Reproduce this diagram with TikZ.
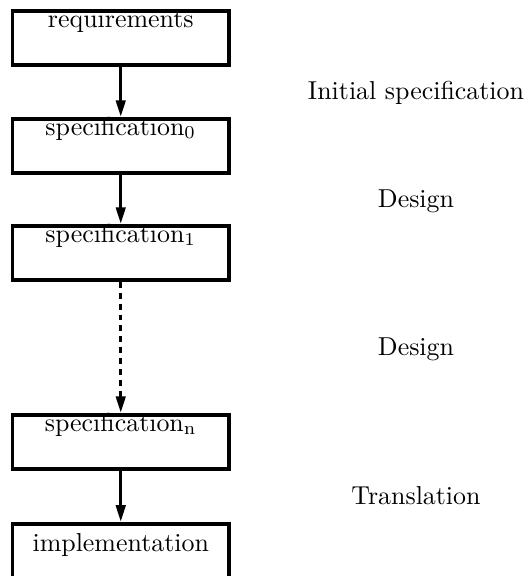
\documentclass[tikz,border=0pt]{standalone}
\usetikzlibrary{arrows.meta}

\begin{document}
\begin{tikzpicture}[x=0.386pt,y=-0.386pt,
  spec/.style={draw,line width=1.45pt,minimum width=83.6pt,minimum height=20.85pt,
    inner sep=0pt,text height=6.2pt,text depth=14.65pt},
  step label/.style={anchor=base},
  flow/.style={line width=1.3pt,-{Triangle[length=6.5pt,width=3.6pt]}}]
\useasboundingbox (0,0) rectangle (528,576);
% the chain of documents
\node[spec] (req)  at (120.75,38)  {requirements};
\node[spec] (spc0) at (120.75,146) {specification$_\mathrm{0}$};
\node[spec] (spc1) at (120.75,253) {specification$_\mathrm{1}$};
\node[spec] (spcn) at (120.75,442) {specification$_\mathrm{n}$};
\node[spec,minimum height=23.2pt,text height=10.8pt,text depth=12.4pt] (impl) at (120.75,554) {implementation};
% steps between them
\draw[flow] (req) -- (spc0);
\draw[flow] (spc0) -- (spc1);
\draw[flow,dash pattern=on 2.3pt off 1.9pt] (spc1) -- (spcn);
\draw[flow] (spcn) -- (impl);
% names of the steps
\node[step label] (init)  at (416,99)  {Initial specification};
\node[step label] (des1)  at (416,207) {Design};
\node[step label] (des2)  at (416,355) {Design};
\node[step label] (trans) at (416,504) {Translation};
\end{tikzpicture}
\end{document}
